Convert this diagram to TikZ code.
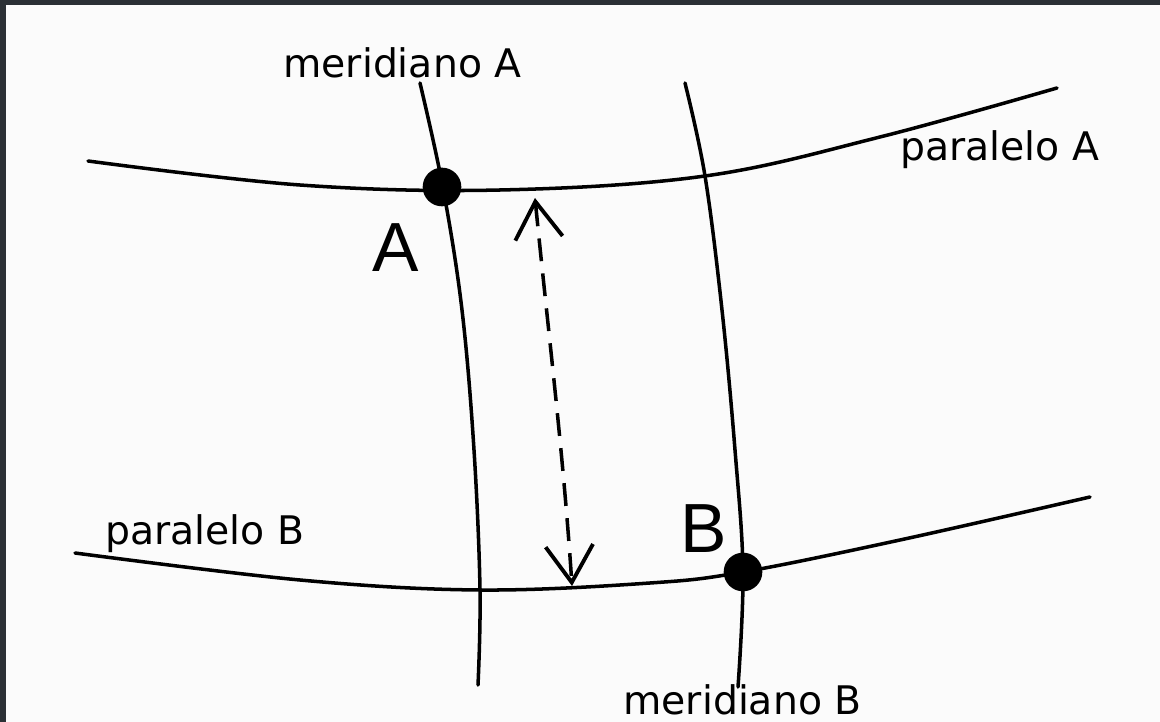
\documentclass[tikz,border=0pt]{standalone}
\usepackage{fontspec}
\setmainfont{DejaVu Sans}
\newfontfamily\handfont{Liberation Sans}
\usetikzlibrary{arrows.meta}
\begin{document}
\begin{tikzpicture}[x=0.02cm,y=-0.02cm,
  curve/.style={line width=2pt,black,line cap=round},
  lbl/.style={font=\fontsize{22.4}{26}\selectfont,inner sep=0pt,anchor=base west},
  hand/.style={font=\handfont\fontsize{39.6}{44}\selectfont,inner sep=0pt},
  dotpt/.style={circle,fill=black,minimum size=22pt,inner sep=0pt},
  dist/.style={line width=2pt,dash pattern=on 13pt off 7pt,
    {Straight Barb[length=21pt,width=27pt,line width=2.2pt]}-{Straight Barb[length=21pt,width=27pt,line width=2.2pt]}}]
\useasboundingbox (0,0) rectangle (1160,722);
\fill[fill={rgb,255:red,43;green,48;blue,53}] (0,0) rectangle (1160,722);
\fill[fill={rgb,255:red,251;green,251;blue,251}] (6,5) rectangle (1160,722);
% paralelos
\draw[curve] plot[smooth,tension=0.6] coordinates {(88,161) (300,185) (500,190) (705,176) (880,137) (1057,88)};
\draw[curve] plot[smooth,tension=0.6] coordinates {(75,553) (300,580) (480,590) (650,583) (743,572) (900,540) (1090,497)};
% meridianos
\draw[curve] plot[smooth,tension=0.6] coordinates {(420,83) (443,188) (462,310) (474,450) (480,590) (478,685)};
\draw[curve] plot[smooth,tension=0.6] coordinates {(685,83) (705,176) (722,310) (735,450) (743,572) (738,687)};
% puntos
\node[dotpt] (pA) at (442,187) {};
\node[dotpt] (pB) at (743,572) {};
\node[hand] (lA) at (396,248) {A};
\node[hand] (lB) at (704,529) {B};
% distancia
\coordinate (dtop) at (535,198);
\coordinate (dbot) at (572,586);
\draw[dist] (dtop) .. controls (548,330) and (563,450) .. (dbot);
% etiquetas
\node[lbl] (mA) at (283,78) {meridiano A};
\node[lbl] (pa) at (900,161) {paralelo A};
\node[lbl] (pb) at (105,545) {paralelo B};
\node[lbl] (mB) at (623,714) {meridiano B};
\end{tikzpicture}
\end{document}
